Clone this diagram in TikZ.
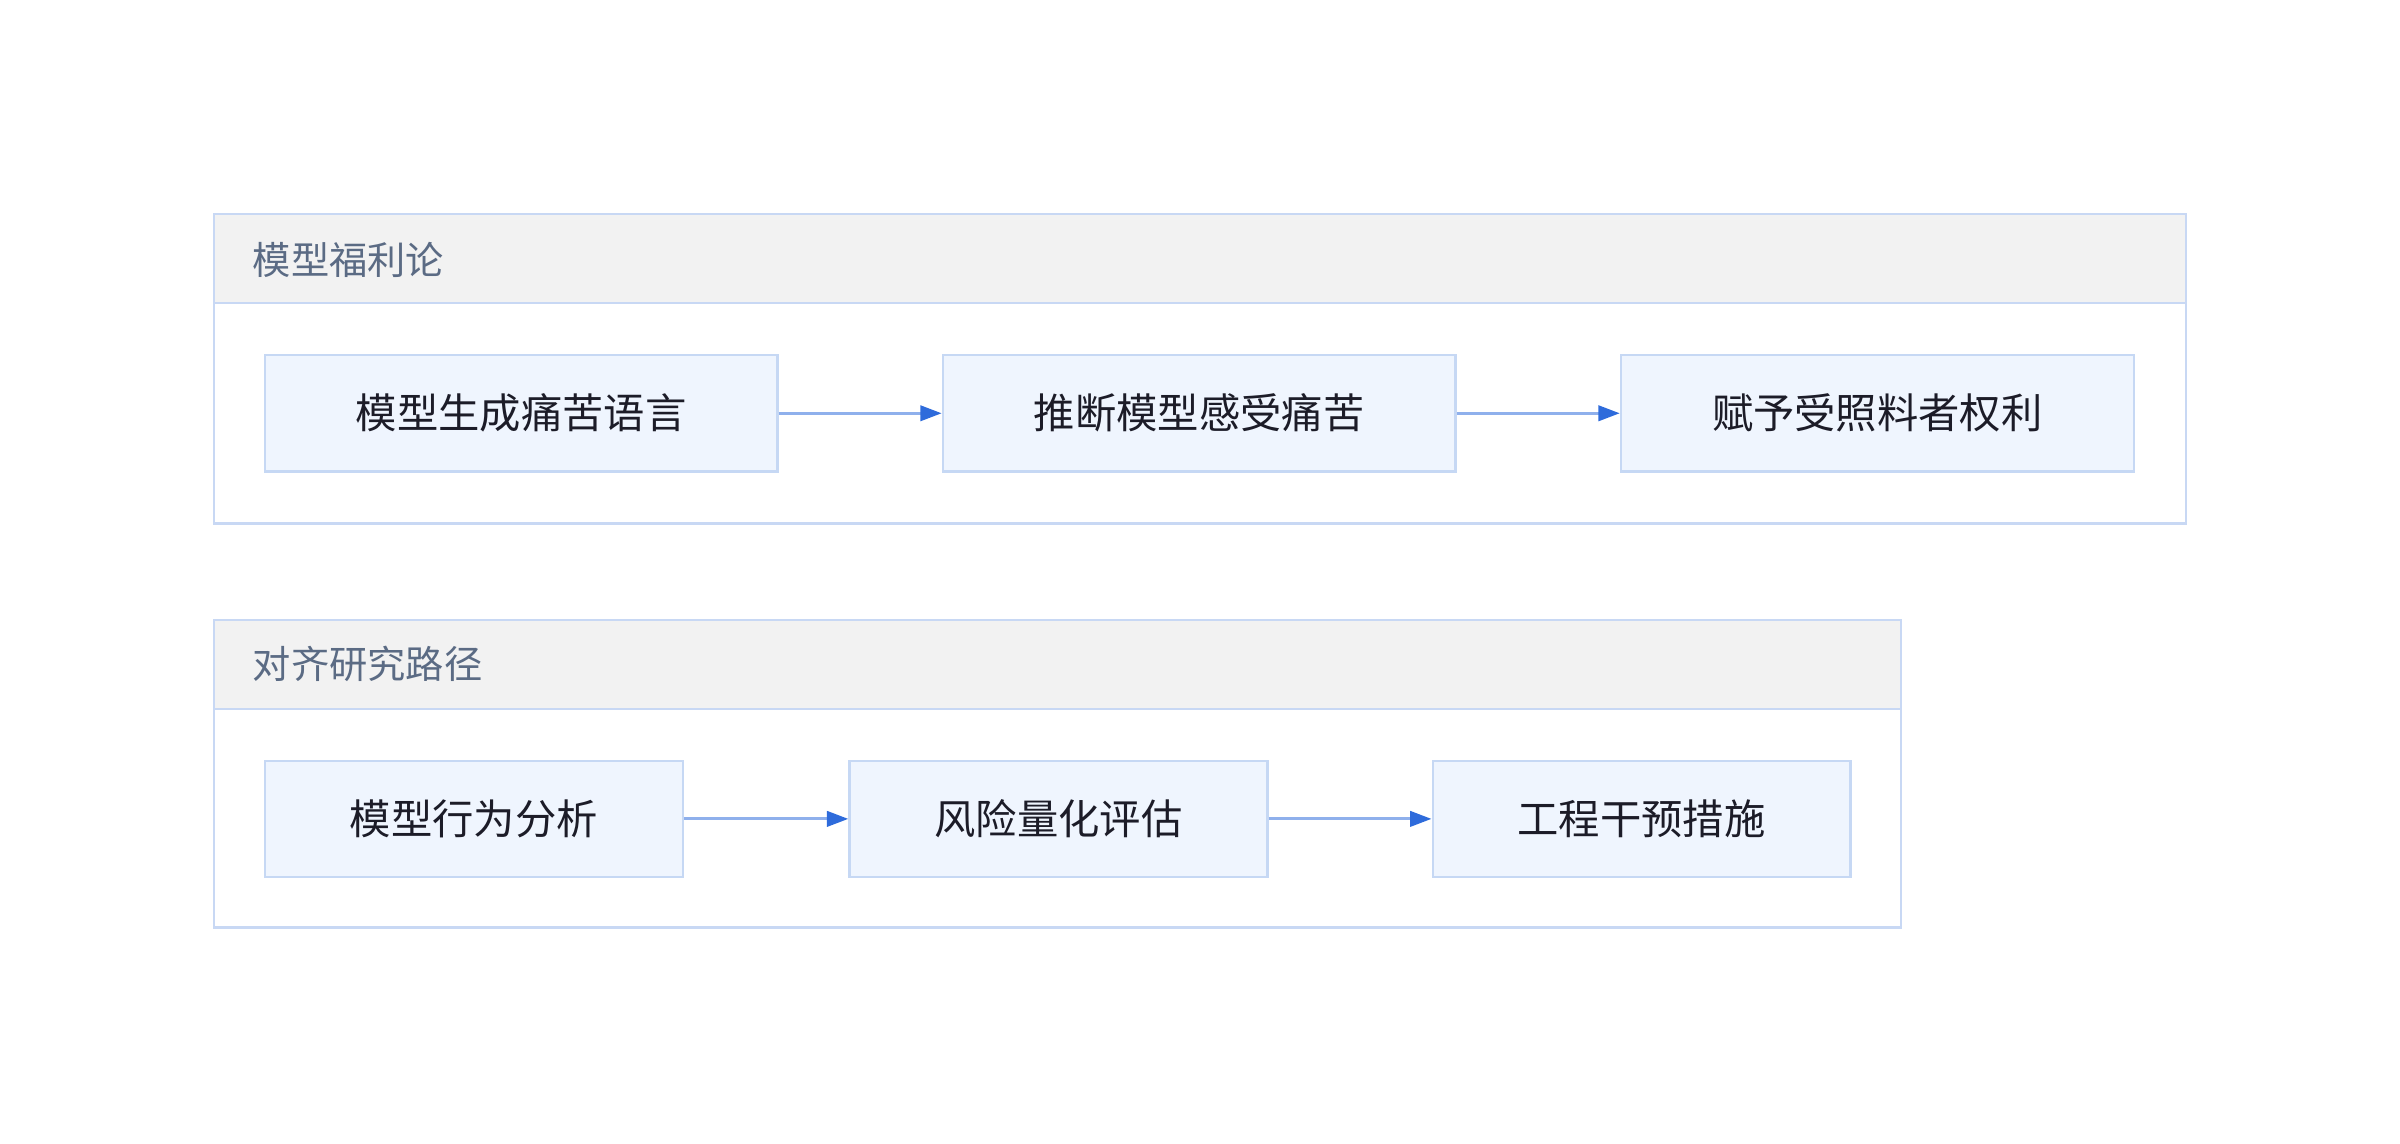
\documentclass[tikz,border=0pt]{standalone}
\usepackage{fontspec}
\setmainfont{Noto Sans CJK SC}
\usetikzlibrary{arrows.meta}
\definecolor{frameline}{HTML}{C8D8F4}
\definecolor{headfill}{HTML}{F2F2F2}
\definecolor{boxfill}{HTML}{EFF5FE}
\definecolor{boxline}{HTML}{C6D8F4}
\definecolor{flowline}{HTML}{8FB0EC}
\definecolor{flowtip}{HTML}{2E6BDB}
\definecolor{headtext}{HTML}{5B6B84}
\definecolor{boxtext}{HTML}{1C1C28}
\tikzset{
  frame/.style={draw=frameline, line width=1.5pt},
  headband/.style={draw=frameline, fill=headfill, line width=1.5pt},
  headlabel/.style={anchor=west, inner sep=0pt, text=headtext, font=\fontsize{25}{29}\selectfont},
  box/.style={draw=boxline, fill=boxfill, line width=1.5pt, minimum height=76pt, inner sep=0pt, text=boxtext, font=\fontsize{27}{31}\selectfont},
  flow/.style={draw=flowline, line width=2pt, -{Triangle[length=14pt,width=10pt,color=flowtip]}}
}
\begin{document}
\begin{tikzpicture}[x=1pt,y=-1pt]
    \useasboundingbox (0,0) rectangle (1568,747.4);
    \draw [frame] (140,140) rectangle (1428,342);
    \draw [headband] (140,140) rectangle (1428,198);
    \node [headlabel] (welfare) at (165,170) {模型福利论};
    \node [box, minimum width=335pt] (gen) at (340.5,270) {模型生成痛苦语言};
    \node [box, minimum width=335pt] (infer) at (783.5,270) {推断模型感受痛苦};
    \node [box, minimum width=335pt] (rights) at (1226.5,270) {赋予受照料者权利};
    \draw [flow] (gen.east) -- (infer.west);
    \draw [flow] (infer.east) -- (rights.west);
    \draw [frame] (140,405) rectangle (1242,606);
    \draw [headband] (140,405) rectangle (1242,463);
    \node [headlabel] (align) at (165,434) {对齐研究路径};
    \node [box, minimum width=273pt] (behav) at (309.5,535) {模型行为分析};
    \node [box, minimum width=273pt] (risk) at (691.5,535) {风险量化评估};
    \node [box, minimum width=273pt] (fix) at (1072.5,535) {工程干预措施};
    \draw [flow] (behav.east) -- (risk.west);
    \draw [flow] (risk.east) -- (fix.west);
\end{tikzpicture}
\end{document}
